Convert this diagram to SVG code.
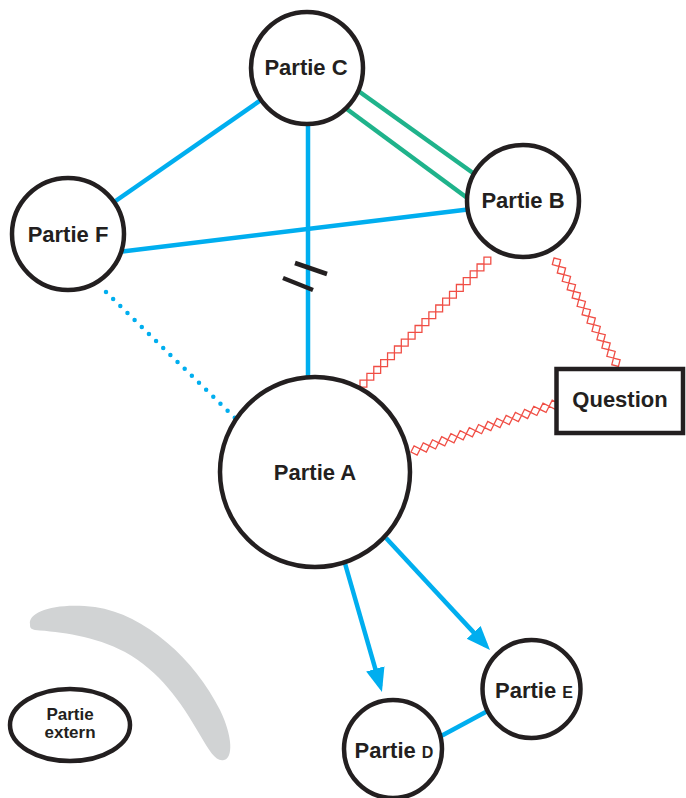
<svg xmlns="http://www.w3.org/2000/svg" width="686" height="798" viewBox="0 0 686 798">
<style>
.node{fill:#fff;stroke:#231f20;stroke-width:4.5}
.lbl{font-family:"Liberation Sans",Arial,sans-serif;font-weight:bold;font-size:22px;fill:#231f20;text-anchor:middle}
.sm{font-size:16px}
.blue{stroke:#00aeef;stroke-width:4.5;fill:none}
.green{stroke:#1fb38b;stroke-width:4.5;fill:none}
.dot{stroke:#00aeef;stroke-width:4.5;fill:none;stroke-linecap:round;stroke-dasharray:0 10}
.brk{stroke:#231f20;stroke-width:4.5}
.zz{fill:none;stroke:#f04e45;stroke-width:1.3;stroke-linejoin:miter}
</style>
<defs>
<marker id="arr" markerUnits="userSpaceOnUse" markerWidth="26" markerHeight="20" refX="18" refY="9.5" orient="auto">
<path d="M0,0 L24,9.5 L0,19 Z" fill="#00aeef"/>
</marker>
</defs>
<path id="shade" d="M30,624 C28,612 55,602 95,607 C145,614 195,660 220,710 C233,737 233,758 224,760 C216,762 210,752 200,735 C180,700 160,672 125,652 C95,636 60,632 35,630 C30,629 30,627 30,624 Z" fill="#d1d3d4"/>
<g id="connectors">
<line class="blue" x1="307" y1="68" x2="68" y2="234"/>
<line class="blue" x1="308" y1="100" x2="308" y2="400"/>
<line class="blue" x1="110" y1="253" x2="480" y2="208"/>
<line class="green" x1="350" y1="85" x2="480" y2="178"/>
<line class="green" x1="340" y1="104" x2="470" y2="200"/>
<line class="dot" x1="106" y1="292" x2="236" y2="419"/>
<line class="blue" x1="430" y1="742" x2="495" y2="707"/>
<line class="blue" x1="344" y1="560" x2="380.3" y2="686.2" marker-end="url(#arr)"/>
<line class="blue" x1="386" y1="538" x2="485.9" y2="645.6" marker-end="url(#arr)"/>
<path class="zz" transform="translate(360,387) rotate(-44.78)" d="M0,0 l4.85,-4.85 4.85,4.85 -4.85,4.85z m9.7,0 l4.85,-4.85 4.85,4.85 -4.85,4.85z m9.7,0 l4.85,-4.85 4.85,4.85 -4.85,4.85z m9.7,0 l4.85,-4.85 4.85,4.85 -4.85,4.85z m9.7,0 l4.85,-4.85 4.85,4.85 -4.85,4.85z m9.7,0 l4.85,-4.85 4.85,4.85 -4.85,4.85z m9.7,0 l4.85,-4.85 4.85,4.85 -4.85,4.85z m9.7,0 l4.85,-4.85 4.85,4.85 -4.85,4.85z m9.7,0 l4.85,-4.85 4.85,4.85 -4.85,4.85z m9.7,0 l4.85,-4.85 4.85,4.85 -4.85,4.85z m9.7,0 l4.85,-4.85 4.85,4.85 -4.85,4.85z m9.7,0 l4.85,-4.85 4.85,4.85 -4.85,4.85z m9.7,0 l4.85,-4.85 4.85,4.85 -4.85,4.85z m9.7,0 l4.85,-4.85 4.85,4.85 -4.85,4.85z m9.7,0 l4.85,-4.85 4.85,4.85 -4.85,4.85z m9.7,0 l4.85,-4.85 4.85,4.85 -4.85,4.85z m9.7,0 l4.85,-4.85 4.85,4.85 -4.85,4.85z m9.7,0 l4.85,-4.85 4.85,4.85 -4.85,4.85z m9.7,0 l4.85,-4.85 4.85,4.85 -4.85,4.85z"/>
<path class="zz" transform="translate(411,452) rotate(-18.31)" d="M0,0 l4.85,-4.85 4.85,4.85 -4.85,4.85z m9.7,0 l4.85,-4.85 4.85,4.85 -4.85,4.85z m9.7,0 l4.85,-4.85 4.85,4.85 -4.85,4.85z m9.7,0 l4.85,-4.85 4.85,4.85 -4.85,4.85z m9.7,0 l4.85,-4.85 4.85,4.85 -4.85,4.85z m9.7,0 l4.85,-4.85 4.85,4.85 -4.85,4.85z m9.7,0 l4.85,-4.85 4.85,4.85 -4.85,4.85z m9.7,0 l4.85,-4.85 4.85,4.85 -4.85,4.85z m9.7,0 l4.85,-4.85 4.85,4.85 -4.85,4.85z m9.7,0 l4.85,-4.85 4.85,4.85 -4.85,4.85z m9.7,0 l4.85,-4.85 4.85,4.85 -4.85,4.85z m9.7,0 l4.85,-4.85 4.85,4.85 -4.85,4.85z m9.7,0 l4.85,-4.85 4.85,4.85 -4.85,4.85z m9.7,0 l4.85,-4.85 4.85,4.85 -4.85,4.85z m9.7,0 l4.85,-4.85 4.85,4.85 -4.85,4.85z m9.7,0 l4.85,-4.85 4.85,4.85 -4.85,4.85z"/>
<path class="zz" transform="translate(554,258) rotate(59.27)" d="M0,0 l4.85,-4.85 4.85,4.85 -4.85,4.85z m9.7,0 l4.85,-4.85 4.85,4.85 -4.85,4.85z m9.7,0 l4.85,-4.85 4.85,4.85 -4.85,4.85z m9.7,0 l4.85,-4.85 4.85,4.85 -4.85,4.85z m9.7,0 l4.85,-4.85 4.85,4.85 -4.85,4.85z m9.7,0 l4.85,-4.85 4.85,4.85 -4.85,4.85z m9.7,0 l4.85,-4.85 4.85,4.85 -4.85,4.85z m9.7,0 l4.85,-4.85 4.85,4.85 -4.85,4.85z m9.7,0 l4.85,-4.85 4.85,4.85 -4.85,4.85z m9.7,0 l4.85,-4.85 4.85,4.85 -4.85,4.85z m9.7,0 l4.85,-4.85 4.85,4.85 -4.85,4.85z m9.7,0 l4.85,-4.85 4.85,4.85 -4.85,4.85z m9.7,0 l4.85,-4.85 4.85,4.85 -4.85,4.85z"/>
<line class="brk" x1="295" y1="263" x2="327" y2="274"/>
<line class="brk" x1="283" y1="278" x2="313" y2="290"/>
</g>
<g id="partieC"><circle class="node" cx="307" cy="68" r="56"/><text class="lbl" x="306" y="75">Partie C</text></g>
<g id="partieB"><circle class="node" cx="523" cy="201" r="56"/><text class="lbl" x="523" y="208">Partie B</text></g>
<g id="partieF"><circle class="node" cx="68" cy="234" r="56"/><text class="lbl" x="68" y="242">Partie F</text></g>
<g id="partieA"><circle class="node" cx="315" cy="472" r="95"/><text class="lbl" x="315" y="480">Partie A</text></g>
<g id="question"><rect class="node" x="556.5" y="369" width="126.5" height="64" stroke-width="5"/><text class="lbl" x="620" y="407">Question</text></g>
<g id="partieE"><circle class="node" cx="531.5" cy="689" r="49"/><text class="lbl" x="534" y="698">Partie <tspan class="sm">E</tspan></text></g>
<g id="partieD"><circle class="node" cx="393" cy="749" r="49"/><text class="lbl" x="394" y="758">Partie <tspan class="sm">D</tspan></text></g>
<g id="partieExtern"><ellipse class="node" cx="70" cy="725" rx="60" ry="36" stroke-width="4"/><text class="lbl" x="70" y="720" style="font-size:17px">Partie</text><text class="lbl" x="70" y="738" style="font-size:17px">extern</text></g>
</svg>
